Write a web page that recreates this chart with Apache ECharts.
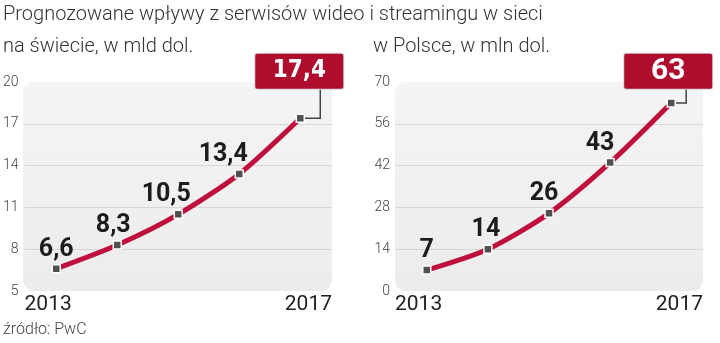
<!DOCTYPE html>
<html><head><meta charset="utf-8">
<script src="https://cdn.jsdelivr.net/npm/echarts@6/dist/echarts.min.js"></script>
<style>html,body{margin:0;padding:0;background:#fff}#c{width:720px;height:343px}</style>
</head><body><div id="c"></div>
<script>
const years = [2013, 2014, 2015, 2016, 2017];
const worldValues = [6.6, 8.3, 10.5, 13.4, 17.4];
const polandValues = [7, 14, 26, 43, 63];
const worldTicks = [5, 8, 11, 14, 17, 20];
const polandTicks = [0, 14, 28, 42, 56, 70];
const titleLine1 = 'Prognozowane wpływy z serwisów wideo i streamingu w sieci';
const worldSubtitle = 'na świecie, w mld dol.';
const polandSubtitle = 'w Polsce, w mln dol.';
const sourceText = 'źródło: PwC';

// style / layout
const RED = '#bf0f3b', BOX = '#b00d2e';
const G = [
  {left: 23, top: 82, width: 309, height: 209},
  {left: 395, top: 82, width: 308, height: 209}
];
const labelShift = [[0, -4, -12, -16], [0, -2, -5, -10]];
const boxFont = [
  {fontFamily: '"DejaVu Sans Condensed", sans-serif', fontSize: 24},
  {fontFamily: 'Roboto, sans-serif', fontSize: 30}
];
const xMin = 2012.48, xMax = 2017.52;

const fmt = v => String(v).replace('.', ',');
const chart = echarts.init(document.getElementById('c'));

function makeSeries(idx, values, lastDistance) {
  const n = values.length;
  return {
    type: 'line', xAxisIndex: idx, yAxisIndex: idx,
    smooth: 0.25,
    lineStyle: {color: RED, width: 5},
    symbol: 'rect', symbolSize: 8,
    itemStyle: {color: '#505050', borderColor: '#fff', borderWidth: 1.5},
    z: 5,
    data: values.map((v, i) => {
      const item = {value: [years[i], v]};
      if (i < n - 1) {
        item.label = {show: true, position: 'top', distance: 2, offset: [labelShift[idx][i], 0],
          formatter: p => fmt(p.value[1]),
          fontFamily: 'Roboto, sans-serif',
          fontWeight: 'bold', fontSize: 25, color: '#1c1c1c'};
      } else {
        item.label = Object.assign({show: true, position: 'top', distance: lastDistance || 20,
          offset: [idx === 0 ? -1 : -3, 0],
          formatter: p => fmt(p.value[1]),
          fontWeight: 'bold', color: '#fff',
          backgroundColor: BOX, borderColor: '#d4d4d4', borderWidth: 1, borderRadius: 2,
          width: 68, height: 29, lineHeight: 29, align: 'center', verticalAlign: 'middle',
          padding: [3, 10, 3, 10]}, boxFont[idx]);
      }
      return item;
    })
  };
}

function yAxis(idx, ticks) {
  return {
    type: 'value', gridIndex: idx, min: ticks[0], max: ticks[ticks.length - 1],
    axisLine: {show: false},
    axisTick: {show: false, customValues: ticks.slice(1, -1)},
    splitLine: {show: true, lineStyle: {color: '#d6d6d6', width: 1}},
    axisLabel: {customValues: ticks, margin: idx === 0 ? 6 : 5,
      fontFamily: 'Roboto, sans-serif', fontWeight: 300, fontSize: 14, color: '#444'}
  };
}
function xAxis(idx) {
  return {
    type: 'value', gridIndex: idx, min: xMin, max: xMax,
    axisLine: {show: false}, axisTick: {show: false}, splitLine: {show: false},
    axisLabel: {customValues: [xMin, xMax], alignMinLabel: 'left', alignMaxLabel: 'right',
      formatter: v => (v < (xMin + xMax) / 2 ? years[0] : years[years.length - 1]),
      margin: 3, fontFamily: 'Roboto, sans-serif', fontSize: 21, color: '#222'}
  };
}

const titleStyle = {fontFamily: 'Roboto, sans-serif', fontWeight: 300, fontSize: 20, color: '#333', lineHeight: 22};

chart.setOption({
  animation: false,
  title: [
    {text: titleLine1, left: 0, top: 4, textStyle: titleStyle, padding: [0, 0, 0, 3]},
    {text: worldSubtitle, left: 0, top: 36, textStyle: titleStyle, padding: [0, 0, 0, 3]},
    {text: polandSubtitle, left: 370, top: 36, textStyle: titleStyle, padding: [0, 0, 0, 3]},
    {text: sourceText, left: 0, top: 322, padding: [0, 0, 0, 3],
      textStyle: {fontFamily: 'Roboto, sans-serif', fontWeight: 300, fontSize: 16, color: '#444'}}
  ],
  graphic: G.map(g => ({type: 'rect', z: -10, silent: true,
    shape: {x: g.left, y: g.top, width: g.width, height: g.height, r: 11},
    style: {fill: new echarts.graphic.LinearGradient(0, 0, 0, 1, [{offset: 0, color: '#f4f4f4'}, {offset: 1, color: '#ececec'}])}})),
  grid: G.map(g => ({left: g.left, top: g.top, width: g.width, height: g.height})),
  xAxis: [xAxis(0), xAxis(1)],
  yAxis: [yAxis(0, worldTicks), yAxis(1, polandTicks)],
  series: [makeSeries(0, worldValues), makeSeries(1, polandValues)]
});

// connectors from last point to the callout box, and box placement
const boxBottom = 87;
const last = years.length - 1;
const conn = [];
const upd = [];
[worldValues, polandValues].forEach((vals, idx) => {
  const p = chart.convertToPixel({seriesIndex: idx}, [years[last], vals[last]]);
  const vx = p[0] + (idx === 0 ? 20 : 15);
  conn.push({id: 'conn' + idx, type: 'polyline', z: 4, silent: true,
    shape: {points: [[p[0] + 3, p[1]], [vx, p[1]], [vx, boxBottom]]},
    style: {stroke: '#444', lineWidth: 1.5, fill: null}});
  upd.push(makeSeries(idx, vals, p[1] - boxBottom + 11));
});
chart.setOption({series: upd, graphic: conn});
</script></body></html>
